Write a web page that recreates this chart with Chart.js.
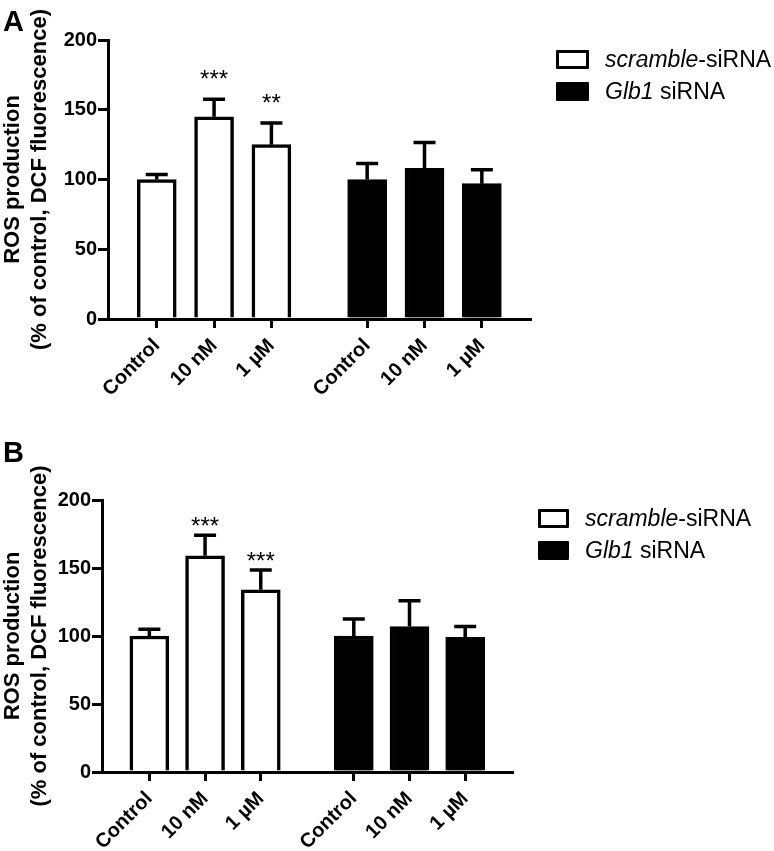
<!DOCTYPE html>
<html lang="en">
<head>
<meta charset="UTF-8">
<title>ROS production</title>
<script src="https://cdn.jsdelivr.net/npm/chart.js"></script>
<style>
    body { margin: 0; background: #fff; font-family: Arial, "Liberation Sans", sans-serif; color: #000; }
    .page { position: relative; width: 774px; height: 851px; }
    .panel { position: absolute; left: 0; width: 774px; }
    .panel canvas { position: absolute; left: 0; top: 0; }
    .letter { position: absolute; left: 3px; top: 7px; font-size: 29px; font-weight: bold; line-height: 29px; }
    .legend { position: absolute; font-size: 23px; line-height: 23px; }
    .legend .row { position: relative; height: 32px; }
    .legend .box { position: absolute; left: 0; top: 0; height: 19px; box-sizing: border-box; border: 3px solid #000; border-radius: 1px; }
    .legend .label { position: absolute; top: -2px; white-space: nowrap; }
</style>
</head>
<body>
<div class="page">
    <div class="panel" style="top:0;height:425px">
        <canvas id="chartA" width="774" height="425"></canvas>
        <div class="letter">A</div>
        <div class="legend" style="left:556px;top:50px">
            <div class="row"><div class="box" style="width:33px;background:#fff"></div><div class="label" style="left:49px"><i>scramble</i>-siRNA</div></div>
            <div class="row"><div class="box" style="width:33px;background:#000"></div><div class="label" style="left:49px"><i>Glb1</i> siRNA</div></div>
        </div>
    </div>
    <div class="panel" style="top:425px;height:426px">
        <canvas id="chartB" width="774" height="426"></canvas>
        <div class="letter" style="top:13px">B</div>
        <div class="legend" style="left:538px;top:84px">
            <div class="row"><div class="box" style="width:31px;background:#fff"></div><div class="label" style="left:47px"><i>scramble</i>-siRNA</div></div>
            <div class="row"><div class="box" style="width:31px;background:#000"></div><div class="label" style="left:47px"><i>Glb1</i> siRNA</div></div>
        </div>
    </div>
</div>

<script>
    // data
    const doseLabels = ['Control', '10 nM', '1 µM'];
    const seriesNames = ['scramble-siRNA', 'Glb1 siRNA'];
    const yTicks = [0, 50, 100, 150, 200];
    const yTitle = ['ROS production', '(% of control, DCF fluorescence)'];

    // panel A
    const scrambleMeanA = [100, 145, 125];
    const scrambleErrA = [3.5, 12.5, 15.5];
    const glb1MeanA = [100, 108, 97];
    const glb1ErrA = [11.5, 18.5, 10];
    const starsA = ['', '***', '**'];

    // panel B
    const scrambleMeanB = [100, 159, 134];
    const scrambleErrB = [5, 15, 14.5];
    const glb1MeanB = [100, 107, 99];
    const glb1ErrB = [12.5, 19, 8];
    const starsB = ['', '***', '***'];

    // second group sits a bit further right than a plain next slot
    const groupShift = 3.67;
    const FONT = 'Arial, "Liberation Sans", sans-serif';

    Chart.defaults.font.family = FONT;
    Chart.defaults.color = '#000';

    // mean + error bars (upper only) and significance stars
    const errorBars = {
        id: 'errorBars',
        afterDatasetsDraw(chart, args, opts) {
            const ctx = chart.ctx;
            const y = chart.scales.y;
            ctx.save();
            ctx.strokeStyle = '#000';
            ctx.fillStyle = '#000';
            ctx.lineWidth = 3.5;
            ctx.font = '24px ' + FONT;
            ctx.textAlign = 'center';
            ctx.textBaseline = 'alphabetic';
            chart.data.datasets.forEach((ds, d) => {
                chart.getDatasetMeta(d).data.forEach((bar, i) => {
                    const top = y.getPixelForValue(ds.data[i].y + ds.errors[i]);
                    ctx.beginPath();
                    ctx.moveTo(bar.x, bar.y);
                    ctx.lineTo(bar.x, top);
                    ctx.moveTo(bar.x - 11, top);
                    ctx.lineTo(bar.x + 11, top);
                    ctx.stroke();
                    const s = ds.stars && ds.stars[i];
                    if (s) ctx.fillText(s, bar.x, top - opts.starGap);
                });
            });
            ctx.restore();
        }
    };

    function makePanel(id, o) {
        const tickPos = doseLabels.map((_, i) => i).concat(doseLabels.map((_, i) => i + groupShift));
        const tickText = doseLabels.concat(doseLabels);
        const axisGrid = (len) => ({
            display: true, drawOnChartArea: false, drawTicks: true, offset: false,
            tickLength: len, tickWidth: 3, tickColor: '#000', color: '#000', lineWidth: 3
        });
        new Chart(document.getElementById(id), {
            type: 'bar',
            data: {
                datasets: [
                    {
                        label: seriesNames[0],
                        data: o.scramble.map((v, i) => ({ x: i, y: v })),
                        errors: o.scrambleErr,
                        stars: o.stars,
                        backgroundColor: '#fff',
                        borderColor: '#000',
                        borderWidth: 3.5
                    },
                    {
                        label: seriesNames[1],
                        data: o.glb1.map((v, i) => ({ x: i + groupShift, y: v })),
                        errors: o.glb1Err,
                        backgroundColor: '#000',
                        borderColor: '#000',
                        borderWidth: 3.5
                    }
                ]
            },
            options: {
                responsive: false,
                animation: false,
                layout: { padding: { top: o.top, right: o.right, left: 0, bottom: 0 } },
                datasets: { bar: { grouped: false, barThickness: 39, borderSkipped: 'start' } },
                plugins: {
                    legend: { display: false },
                    tooltip: { enabled: false },
                    errorBars: { starGap: o.starGap }
                },
                scales: {
                    x: {
                        type: 'linear',
                        offset: false,
                        min: -0.85,
                        max: 6.51,
                        afterBuildTicks: axis => { axis.ticks = tickPos.map(v => ({ value: v })); },
                        afterFit: s => { s.height = o.xHeight; },
                        grid: axisGrid(9),
                        border: { display: true, color: '#000', width: 3 },
                        ticks: {
                            autoSkip: false,
                            minRotation: 45,
                            maxRotation: 45,
                            padding: 6,
                            font: { size: 20, weight: 'bold' },
                            callback: (v, i) => tickText[i]
                        }
                    },
                    y: {
                        min: 0,
                        max: 200,
                        afterBuildTicks: axis => { axis.ticks = yTicks.map(v => ({ value: v })); },
                        afterFit: s => { s.width = o.yWidth; },
                        grid: axisGrid(10),
                        border: { display: true, color: '#000', width: 3 },
                        ticks: { padding: 1, font: { size: 20, weight: 'bold' } },
                        title: {
                            display: true,
                            text: yTitle,
                            padding: 0,
                            font: { size: 22, weight: 'bold' }
                        }
                    }
                }
            },
            plugins: [errorBars]
        });
    }

    makePanel('chartA', {
        scramble: scrambleMeanA, scrambleErr: scrambleErrA,
        glb1: glb1MeanA, glb1Err: glb1ErrA, stars: starsA,
        top: 40, right: 244, yWidth: 108, xHeight: 106, starGap: 12
    });
    makePanel('chartB', {
        scramble: scrambleMeanB, scrambleErr: scrambleErrB,
        glb1: glb1MeanB, glb1Err: glb1ErrB, stars: starsB,
        top: 75, right: 262, yWidth: 102, xHeight: 79, starGap: 1
    });
</script>
</body>
</html>
